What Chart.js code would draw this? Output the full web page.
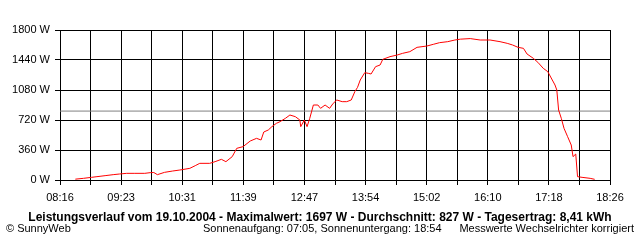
<!DOCTYPE html>
<html>
<head>
<meta charset="utf-8">
<script src="https://cdn.jsdelivr.net/npm/chart.js@4/dist/chart.umd.min.js"></script>
<style>
  html, body { margin: 0; padding: 0; background: #fff; }
  #wrap { width: 640px; height: 240px; }
</style>
</head>
<body>
<div id="wrap"><canvas id="powerChart" width="640" height="240"></canvas></div>
<script>
// time axis labels (every second grid line carries a label)
const tickLabels = ["08:16", "09:23", "10:31", "11:39", "12:47", "13:54", "15:02", "16:10", "17:18", "18:26"];
const yTicks = [0, 360, 720, 1080, 1440, 1800];

const times = [
  "08:33", "08:42", "08:51", "08:57", "09:06", "09:15", "09:22", "09:30", "09:39", "09:50",
  "09:56", "10:00", "10:04", "10:12", "10:21", "10:29", "10:40", "10:46", "10:51", "11:02",
  "11:08", "11:15", "11:20", "11:27", "11:32", "11:39", "11:47", "11:54", "11:59", "12:02",
  "12:07", "12:11", "12:16", "12:20", "12:26", "12:31", "12:37", "12:42", "12:43", "12:47",
  "12:50", "12:53", "12:57", "13:02", "13:05", "13:10", "13:15", "13:19", "13:23", "13:29",
  "13:34", "13:39", "13:43", "13:46", "13:49", "13:54", "13:58", "14:01", "14:06", "14:11",
  "14:14", "14:22", "14:30", "14:36", "14:44", "14:52", "15:03", "15:10", "15:17", "15:26",
  "15:34", "15:40", "15:51", "16:02", "16:13", "16:24", "16:32", "16:38", "16:44", "16:50",
  "16:54", "17:01", "17:06", "17:12", "17:17", "17:22", "17:25", "17:27", "17:29", "17:32",
  "17:35", "17:39", "17:43", "17:45", "17:48", "17:50", "17:55", "18:04", "18:09"
];
const watts = [
  10, 20, 32, 40, 52, 64, 72, 80, 80, 80,
  88, 90, 64, 92, 108, 120, 140, 172, 200, 200,
  220, 248, 220, 280, 380, 400, 468, 500, 480, 576,
  600, 640, 680, 700, 740, 780, 760, 720, 640, 720,
  640, 740, 900, 900, 860, 900, 860, 920, 960, 940,
  940, 960, 1060, 1112, 1200, 1288, 1280, 1272, 1360, 1380,
  1448, 1480, 1500, 1520, 1540, 1592, 1608, 1628, 1648, 1660,
  1680, 1690, 1697, 1680, 1680, 1660, 1640, 1620, 1592, 1580,
  1512, 1460, 1412, 1340, 1300, 1200, 1140, 1080, 840, 740,
  620, 520, 420, 280, 312, 40, 32, 20, 8
];
const averageWatts = 827;

const titleText = "Leistungsverlauf vom 19.10.2004 - Maximalwert: 1697 W - Durchschnitt: 827 W - Tagesertrag: 8,41 kWh";
const copyrightText = "\u00A9 SunnyWeb";
const sunText = "Sonnenaufgang: 07:05, Sonnenuntergang: 18:54";
const noteText = "Messwerte Wechselrichter korrigiert";

function toMinutes(t) {
  const [h, m] = t.split(":").map(Number);
  return h * 60 + m;
}

const xMin = toMinutes(tickLabels[0]);
const xMax = toMinutes(tickLabels[tickLabels.length - 1]);
const gridCount = (tickLabels.length - 1) * 2;
const gridValues = [];
for (let i = 0; i <= gridCount; i++) gridValues.push(xMin + i * (xMax - xMin) / gridCount);

const powerPoints = times.map((t, i) => ({ x: toMinutes(t), y: watts[i] }));
const averagePoints = [{ x: xMin, y: averageWatts }, { x: xMax, y: averageWatts }];

const FONT = "'Liberation Sans', Arial, sans-serif";
Chart.defaults.font.family = FONT;
Chart.defaults.font.size = 11;
Chart.defaults.color = "#000";

const footerText = {
  id: "footerText",
  afterDraw(chart) {
    const ctx = chart.ctx;
    ctx.save();
    ctx.fillStyle = "#000";
    ctx.textBaseline = "alphabetic";
    ctx.font = "bold 12px " + FONT;
    ctx.textAlign = "center";
    ctx.fillText(titleText, 320, 221);
    ctx.font = "11px " + FONT;
    ctx.textAlign = "left";
    ctx.fillText(copyrightText, 6, 232);
    ctx.fillText(sunText, 203, 232);
    ctx.textAlign = "right";
    ctx.fillText(noteText, 634, 232);
    ctx.restore();
  },
};

new Chart(document.getElementById("powerChart"), {
  type: "line",
  data: {
    datasets: [
      {
        data: powerPoints,
        borderColor: "#ff0000",
        borderWidth: 1,
        pointRadius: 0,
        tension: 0,
        fill: false,
      },
      {
        data: averagePoints,
        borderColor: "#808080",
        borderWidth: 1,
        pointRadius: 0,
        fill: false,
      },
    ],
  },
  options: {
    responsive: false,
    animation: false,
    devicePixelRatio: 1,
    layout: { padding: { top: 30, right: 30, left: 0, bottom: 0 } },
    plugins: { legend: { display: false }, tooltip: { enabled: false } },
    scales: {
      x: {
        type: "linear",
        min: xMin,
        max: xMax,
        afterBuildTicks: (scale) => {
          scale.ticks = gridValues.map((v) => ({ value: v }));
        },
        afterFit: (scale) => {
          scale.height = 60;
        },
        ticks: {
          autoSkip: false,
          maxRotation: 0,
          padding: 6,
          callback: (value, index) => (index % 2 === 0 ? tickLabels[index / 2] : ""),
        },
        grid: { color: "#000", lineWidth: 1, tickLength: 5, drawTicks: true },
        border: { color: "#000", width: 1 },
      },
      y: {
        min: 0,
        max: 1800,
        afterBuildTicks: (scale) => {
          scale.ticks = yTicks.map((v) => ({ value: v }));
        },
        afterFit: (scale) => {
          scale.width = 60;
        },
        ticks: {
          padding: 5,
          callback: (value) => value + " W",
        },
        grid: { color: "#000", lineWidth: 1, tickLength: 5 },
        border: { color: "#000", width: 1 },
      },
    },
  },
  plugins: [footerText],
});
</script>
</body>
</html>
